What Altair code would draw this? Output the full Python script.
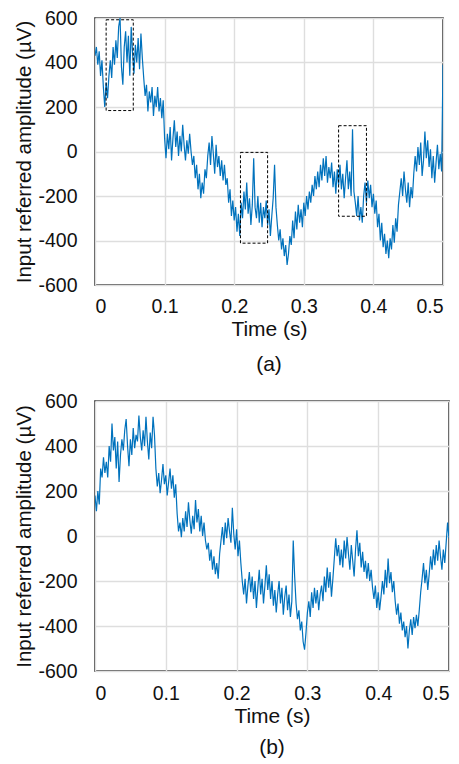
import altair as alt
import pandas as pd

FONT = "Liberation Sans"
LINE_COLOR = "#0072BD"

DT = 0.002
# Panel (a) trace, µV, one value every 2 ms from t = 0 to 0.5 s
amp_a = [
    430, 470, 390, 450, 340, 410, 290, 200, 310, 240,
    340, 410, 330, 470, 390, 500, 420, 560, 600, 380,
    300, 470, 540, 400, 520, 340, 560, 440, 350, 480,
    400, 510, 370, 530, 420, 330, 250, 300, 180, 270,
    220, 290, 160, 250, 200, 290, 180, 240, 150, 230,
    60, -30, 80, 10, 110, -40, 60, 140, 20, 90,
    -20, 70, 0, 120, 30, -40, 50, -10, 80, 0,
    -60, -20, -120, -60, -170, -100, -210, -140, -190, -80,
    -120, -20, 40, -60, 70, -10, -100, 30, -70, -20,
    -110, -40, -130, -60, -150, -120, -230, -170, -290, -220,
    -310, -250, -360, -280, -380, -230, -300, -180, -260, -140,
    -280, -210, -330, -240, -30, -250, -300, -200, -320, -230,
    -340, -250, -300, -220, -330, -260, -380, -290, -210, -60,
    -250, -330, -400, -350, -440, -390, -470, -420, -510, -460,
    -380, -420, -310, -390, -270, -350, -240, -320, -260, -340,
    -230, -290, -200, -260, -180, -230, -150, -200, -110, -170,
    -90, -160, -60, -130, -30, -110, -20, -140, -70, -120,
    -50, -160, -90, -190, -80, -150, -60, -170, -100, -210,
    -120, -40, -170, -90, -200, 100, -180, -230, -290, -200,
    -310, -250, -320, -200, -140, -230, -130, -210, -150, -250,
    -190, -280, -220, -340, -280, -400, -320, -430, -370, -460,
    -400, -480, -390, -440, -330, -410, -300, -360, -240, -180,
    -120, -200, -90, -170, -230, -140, -250, -160, -210, -100,
    -20, -90, 20, -60, 40, -110, -40, 90, -30, 50,
    -70, 10, -120, -20, -140, -50, 30, -80, -10, -90,
    390,
]

# Panel (b) trace, µV, same sampling
amp_b = [
    180, 110, 200, 140, 300, 260, 350, 280, 330, 260,
    400, 330, 500, 380, 440, 300, 420, 240, 360, 430,
    380, 470, 520, 400, 310, 430, 360, 480, 390, 450,
    420, 535, 440, 380, 470, 400, 530, 420, 340, 460,
    390, 530, 450, 300, 220, 280, 190, 250, 320, 230,
    270, 180, 240, 300, 210, 270, 170, 230, 100, 20,
    60, -5, 80, 20, 110, 40, 150, 70, 10, 90,
    30, 160, 60, 120, 20, 90, 0, 60, -20, -60,
    -30, -110, -60, -150, -90, -170, -120, -190, -80, -20,
    40, -40, 60, -10, 80, 20, -30, 125, 10, -60,
    30, -90, -20, -120, -200, -260, -190, -300, -220, -160,
    -250, -180, -280, -200, -320, -230, -150, -260, -190, -300,
    -220, -130, -240, -170, -280, -200, -310, -240, -340, -260,
    -200, -300, -230, -350, -270, -220, -330, -260, -360, -290,
    -20, -180, -300, -370, -330, -420, -380, -470, -505, -430,
    -340, -290, -360, -250, -320, -230, -300, -240, -330, -260,
    -220, -290, -180, -250, -140, -230, -160, -270, -190, -100,
    -10, -90, -40, -130, -60, -140, -20, -100, -5, -80,
    -150, -40, -110, -180, -60, 25, -90, -30, -140, -70,
    -160, -110, -190, -120, -200, -150, -230, -280, -220, -320,
    -250, -330, -270, -200, -260, -150, -230, -100, -210, -160,
    -250, -200, -290, -350, -300, -390, -340, -420, -380, -450,
    -400, -500, -420, -370, -440, -360, -410, -350, -400, -330,
    -250, -190, -120, -210, -150, -240, -170, -90, -150, -60,
    -130, -40, -110, -20, -90, -150, -60, -120, -30, 60,
    -10,
]

# Dashed highlight boxes in panel (a)
box_t0 = [0.016, 0.209, 0.350]
box_t1 = [0.055, 0.248, 0.390]
box_lo = [184, -412, -291]
box_hi = [592, -4, 116]

x_ticks = [0, 0.1, 0.2, 0.3, 0.4, 0.5]
y_ticks = [-600, -400, -200, 0, 200, 400, 600]

df_a = pd.DataFrame({"t": [round(i * DT, 3) for i in range(len(amp_a))], "v": amp_a})
df_b = pd.DataFrame({"t": [round(i * DT, 3) for i in range(len(amp_b))], "v": amp_b})
df_box = pd.DataFrame({"t0": box_t0, "t1": box_t1, "lo": box_lo, "hi": box_hi})


def axes(label_pad_y=18, title_pad_y=3, label_pad_x=12, title_pad_x=3):
    xs = alt.Scale(domain=[0, 0.5], nice=False, zero=False)
    ys = alt.Scale(domain=[-600, 600], nice=False, zero=False)
    xa = alt.Axis(values=x_ticks, labelExpr="'' + datum.value", title="Time (s)",
                  labelPadding=label_pad_x, titlePadding=title_pad_x)
    ya = alt.Axis(values=y_ticks, labelExpr="'' + datum.value",
                  title="Input referred amplitude (µV)",
                  labelPadding=label_pad_y, titlePadding=title_pad_y)
    return xs, ys, xa, ya


def panel(df, caption, w, h, boxes=None, cap_offset=14, **kw):
    xs, ys, xa, ya = axes(**kw)
    line = alt.Chart(df).mark_line(color=LINE_COLOR, strokeWidth=1.2, clip=True).encode(
        x=alt.X("t:Q", scale=xs, axis=xa),
        y=alt.Y("v:Q", scale=ys, axis=ya),
    )
    layers = [line]
    if boxes is not None:
        rect = alt.Chart(boxes).mark_rect(filled=False, stroke="black", strokeWidth=1,
                                          strokeDash=[3, 2]).encode(
            x="t0:Q", x2="t1", y="lo:Q", y2="hi")
        layers.append(rect)
    return alt.layer(*layers).properties(
        width=w, height=h,
        title=alt.TitleParams(caption, orient="bottom", anchor="middle", offset=cap_offset,
                              fontSize=21, font=FONT, fontWeight="normal", color="#111111"),
    )


pa = panel(df_a, "(a)", 348, 267, boxes=df_box, cap_offset=14)
pb = panel(df_b, "(b)", 354, 270, cap_offset=10, label_pad_x=13, title_pad_x=3)

chart = alt.vconcat(pa, pb, spacing=14).properties(
    padding={"left": 14, "top": 7, "right": 0, "bottom": 0}
).configure_view(
    stroke="#262626", strokeWidth=1.6
).configure_axis(
    domain=False, ticks=False, grid=True, gridColor="#dedede", gridWidth=1.4,
    labelFont=FONT, labelFontSize=19.5, labelColor="#111111",
    titleFont=FONT, titleFontSize=21, titleFontWeight="normal", titleColor="#111111",
).configure_axisY(titleFontSize=20.5)

chart.save("out.html", embed_options={"renderer": "svg", "actions": False})
